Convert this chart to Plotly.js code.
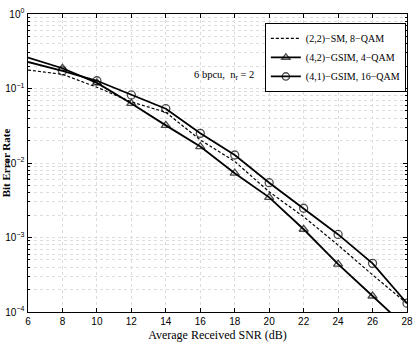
<!DOCTYPE html>
<html>
<head>
<meta charset="utf-8">
<script src="https://cdn.plot.ly/plotly-3.0.1.min.js"></script>
<style>
  body { margin: 0; background: #fff; }
  #graph { width: 415px; height: 346px; }
</style>
</head>
<body>
<div id="graph"></div>
<script>
// SNR points (dB)
var snr = [6, 8, 10, 12, 14, 16, 18, 20, 22, 24, 26, 28];

// BER
var ber_sm = [0.177, 0.155, 0.104, 0.066, 0.048, 0.0204, 0.0105, 0.0041, 0.0019, 0.00079, 0.000315, 0.00013];
var ber_gsim42 = [0.26, 0.187, 0.119, 0.063, 0.032, 0.0166, 0.0073, 0.00346, 0.00129, 0.00044, 0.000164, 0.000061];
var ber_gsim41 = [0.227, 0.172, 0.127, 0.082, 0.0536, 0.025, 0.0128, 0.00544, 0.00247, 0.0011, 0.00045, 0.000131];

var name_sm = '(2,2)\u2212SM, 8\u2212QAM';
var name_g42 = '(4,2)\u2212GSIM, 4\u2212QAM';
var name_g41 = '(4,1)\u2212GSIM, 16\u2212QAM';

function main() {
    // no marker on the first point (the curves start at the axis edge)
    var msize = snr.map(function (v, i) { return i == 0 ? 0 : 8; });

    var trace1 = {
        x: snr, y: ber_sm, name: name_sm,
        type: 'scatter', mode: 'lines',
        line: {color: 'black', width: 1.2, dash: '3px,2px'}
    };
    var trace2 = {
        x: snr, y: ber_gsim42, name: name_g42,
        type: 'scatter', mode: 'lines+markers',
        line: {color: 'black', width: 1.8},
        marker: {symbol: 'triangle-up-open', size: msize, color: 'black', line: {width: 1.3}}
    };
    var trace3 = {
        x: snr, y: ber_gsim41, name: name_g41,
        type: 'scatter', mode: 'lines+markers',
        line: {color: 'black', width: 1.8},
        marker: {symbol: 'circle-open', size: msize, color: 'black', line: {width: 1.3}}
    };

    var gridc = '#dcdcdc';
    var layout = {
        width: 415, height: 346,
        margin: {l: 28, r: 8, t: 14, b: 34},
        paper_bgcolor: 'white', plot_bgcolor: 'white',
        font: {family: 'Liberation Serif, serif', color: 'black', size: 12},
        showlegend: true,
        legend: {
            x: 0.997, y: 0.97, xanchor: 'right', yanchor: 'top',
            bgcolor: 'white', bordercolor: 'black', borderwidth: 1,
            font: {family: 'Liberation Serif, serif', size: 10},
            tracegroupgap: 0, itemwidth: 30
        },
        xaxis: {
            range: [6, 28], dtick: 2, tick0: 6,
            showline: true, mirror: 'ticks', linecolor: 'black', linewidth: 1,
            ticks: 'inside', ticklen: 4, tickcolor: 'black',
            showgrid: true, gridcolor: gridc, griddash: 'dot', gridwidth: 1,
            zeroline: false,
            tickfont: {family: 'Liberation Sans Narrow, Liberation Sans, sans-serif', size: 10},
            title: {text: 'Average Received SNR (dB)', font: {size: 12}, standoff: 4}
        },
        yaxis: {
            type: 'log', range: [-4, 0],
            tickmode: 'linear', tick0: 0, dtick: 1,
            exponentformat: 'power', showexponent: 'all',
            labelalias: {'1': '10<sup>0</sup>'},
            showline: true, mirror: 'ticks', linecolor: 'black', linewidth: 1,
            ticks: 'inside', ticklen: 4, tickcolor: 'black',
            showgrid: true, gridcolor: gridc, griddash: 'dot', gridwidth: 1,
            minor: {dtick: 'D1', showgrid: true, gridcolor: gridc, griddash: 'dot', gridwidth: 1, ticks: 'inside', ticklen: 2, tickcolor: 'black'},
            zeroline: false,
            ticklabelstandoff: 1,
            tickfont: {family: 'Liberation Sans Narrow, Liberation Sans, sans-serif', size: 8},
            title: {text: '<b>Bit Error Rate</b>', font: {size: 11}, standoff: 0}
        },
        annotations: [{
            text: '6 bpcu,  n<sub>r</sub> = 2',
            xref: 'x', yref: 'y', x: 17.4, y: Math.log10(0.15),
            xanchor: 'center', showarrow: false,
            font: {family: 'Liberation Serif, serif', size: 10.5}
        }]
    };
    Plotly.newPlot('graph', [trace1, trace2, trace3], layout, {displayModeBar: false, staticPlot: true});
}
document.addEventListener('DOMContentLoaded', main, false);
</script>
</body>
</html>
